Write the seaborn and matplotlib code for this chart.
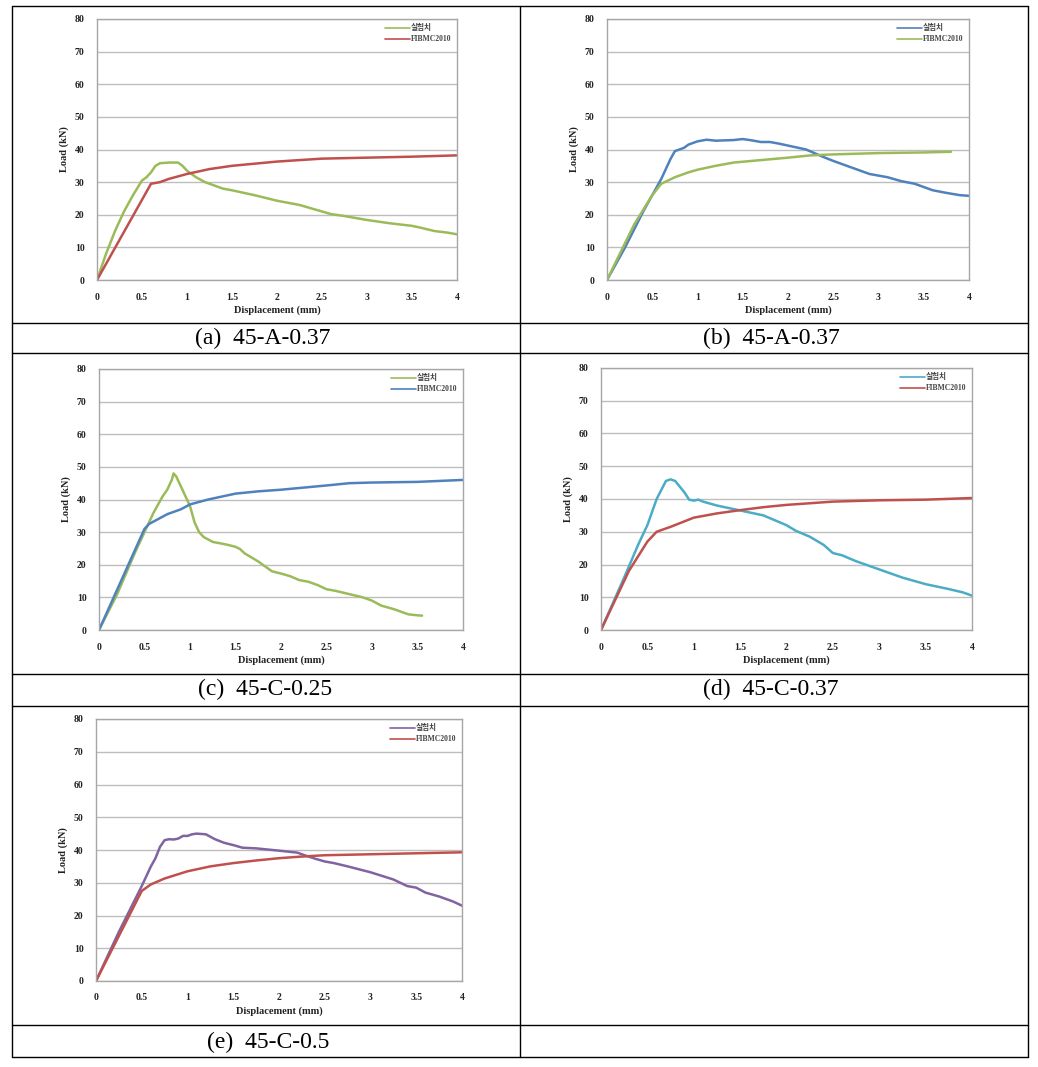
import matplotlib
matplotlib.use("Agg")
import matplotlib.pyplot as plt
from matplotlib.lines import Line2D
import seaborn as sns
import pandas as pd

sns.set_style("white")
plt.rcParams['font.family'] = ['Liberation Serif', 'Noto Sans CJK KR', 'DejaVu Sans']

GREEN = "#9BBB59"
RED = "#C0504D"
BLUE = "#4F81BD"
TEAL = "#4BACC6"
PURPLE = "#8064A2"

EXP_LABEL = "실험치"
FIB_LABEL = "FIBMC2010"

# (a) 45-A-0.37
a_exp_x = [0, 0.1, 0.2, 0.3, 0.4, 0.5, 0.55, 0.6, 0.65, 0.7, 0.8, 0.9, 0.95, 1.0, 1.1, 1.2, 1.3, 1.4, 1.5, 1.75, 2.0, 2.25, 2.4, 2.5, 2.6, 2.75, 3.0, 3.25, 3.5, 3.6, 3.75, 3.9, 4.0]
a_exp_y = [0, 8, 15, 21, 26, 30.5, 31.5, 33, 35, 35.8, 36, 36, 35, 33.5, 31.5, 30, 29, 28, 27.5, 26, 24.3, 23, 21.8, 21, 20.2, 19.6, 18.4, 17.4, 16.6, 16, 15, 14.5, 14]
a_fib_x = [0, 0.6, 0.7, 0.8, 1.0, 1.25, 1.5, 2.0, 2.5, 3.0, 3.5, 4.0]
a_fib_y = [0, 29.5, 30, 31, 32.5, 34, 35, 36.3, 37.2, 37.5, 37.8, 38.2]

# (b) 45-A-0.37
b_exp_x = [0, 0.2, 0.4, 0.5, 0.6, 0.7, 0.75, 0.8, 0.85, 0.9, 1.0, 1.1, 1.2, 1.3, 1.4, 1.5, 1.6, 1.7, 1.8, 1.9, 2.0, 2.1, 2.2, 2.3, 2.4, 2.5, 2.6, 2.75, 2.9, 3.0, 3.1, 3.25, 3.4, 3.5, 3.6, 3.75, 3.9, 4.0]
b_exp_y = [0, 10, 21, 26, 31, 37, 39.5, 40, 40.5, 41.5, 42.5, 43, 42.7, 42.8, 42.9, 43.2, 42.8, 42.3, 42.3, 41.8, 41.2, 40.6, 40, 38.8, 37.6, 36.5, 35.5, 34, 32.5, 32, 31.5, 30.3, 29.5, 28.5, 27.5, 26.7, 26, 25.8]
b_fib_x = [0, 0.3, 0.5, 0.6, 0.75, 0.9, 1.0, 1.2, 1.4, 1.6, 1.8, 2.0, 2.25, 2.5, 3.0, 3.5, 3.8]
b_fib_y = [0, 17, 26, 29.5, 31.5, 33, 33.8, 35, 36, 36.5, 37, 37.5, 38.2, 38.5, 38.9, 39.1, 39.3]

# (c) 45-C-0.25
c_exp_x = [0, 0.2, 0.4, 0.5, 0.55, 0.6, 0.7, 0.75, 0.8, 0.82, 0.85, 0.9, 1.0, 1.05, 1.1, 1.15, 1.25, 1.4, 1.5, 1.55, 1.6, 1.75, 1.9, 2.0, 2.1, 2.2, 2.3, 2.4, 2.5, 2.6, 2.75, 2.9, 3.0, 3.1, 3.25, 3.4, 3.5, 3.55]
c_exp_y = [0, 11, 24, 30, 33, 36, 41, 43, 46, 48, 47, 44, 38, 33, 30, 28.5, 27, 26.2, 25.5, 24.8, 23.5, 21, 18, 17.3, 16.5, 15.3, 14.8, 13.8, 12.5, 12, 11, 10, 9, 7.5, 6.3, 4.8, 4.5, 4.4]
c_fib_x = [0, 0.5, 0.55, 0.65, 0.75, 0.9, 1.0, 1.2, 1.5, 1.75, 2.0, 2.5, 2.75, 3.0, 3.5, 4.0]
c_fib_y = [0, 31, 32.5, 34, 35.5, 37, 38.5, 40, 41.8, 42.5, 43, 44.3, 45, 45.2, 45.4, 46]

# (d) 45-C-0.37
d_exp_x = [0, 0.25, 0.4, 0.5, 0.6, 0.7, 0.75, 0.8, 0.9, 0.95, 1.0, 1.05, 1.1, 1.25, 1.5, 1.75, 2.0, 2.1, 2.25, 2.4, 2.5, 2.6, 2.75, 3.0, 3.25, 3.5, 3.75, 3.9, 4.0]
d_exp_y = [0, 16, 26, 32, 40, 45.5, 46, 45.5, 42, 39.8, 39.5, 39.8, 39.2, 38, 36.5, 35, 32, 30.3, 28.5, 26, 23.5, 22.8, 21, 18.5, 16, 14, 12.5, 11.5, 10.5]
d_fib_x = [0, 0.3, 0.5, 0.6, 0.75, 1.0, 1.25, 1.5, 1.75, 2.0, 2.5, 3.0, 3.5, 4.0]
d_fib_y = [0, 18, 27, 30, 31.5, 34.3, 35.6, 36.6, 37.5, 38.2, 39.2, 39.6, 39.8, 40.3]

# (e) 45-C-0.5
e_exp_x = [0, 0.25, 0.5, 0.6, 0.65, 0.7, 0.75, 0.8, 0.85, 0.9, 0.95, 1.0, 1.05, 1.1, 1.2, 1.3, 1.4, 1.5, 1.6, 1.75, 2.0, 2.2, 2.3, 2.4, 2.5, 2.6, 2.75, 3.0, 3.25, 3.4, 3.5, 3.6, 3.75, 3.9, 4.0]
e_exp_y = [0, 15, 29, 35, 37.5, 41, 43, 43.3, 43.2, 43.5, 44.3, 44.3, 44.8, 45, 44.8, 43.3, 42.2, 41.5, 40.7, 40.5, 39.8, 39.2, 38.2, 37.3, 36.5, 36, 35, 33.2, 31, 29, 28.5, 27, 25.8, 24.3, 23]
e_fib_x = [0, 0.5, 0.6, 0.75, 1.0, 1.25, 1.5, 1.75, 2.0, 2.25, 2.5, 3.0, 3.5, 4.0]
e_fib_y = [0, 27.5, 29.5, 31.3, 33.5, 35, 36, 36.8, 37.5, 38, 38.4, 38.7, 39, 39.3]

captions = ["(a)  45-A-0.37", "(b)  45-A-0.37", "(c)  45-C-0.25", "(d)  45-C-0.37", "(e)  45-C-0.5"]
x_ticks = [0, 0.5, 1, 1.5, 2, 2.5, 3, 3.5, 4]
x_ticklabels = ["0", "0.5", "1", "1.5", "2", "2.5", "3", "3.5", "4"]
y_ticks = [0, 10, 20, 30, 40, 50, 60, 70, 80]

W, H = 1038, 1067
fig = plt.figure(figsize=(W / 100, H / 100), dpi=100)
fig.patch.set_facecolor("white")

def px_rect(x0, x4, y80, y0):
    return [x0 / W, 1 - y0 / H, (x4 - x0) / W, (y0 - y80) / H]

panels = [
    (px_rect(97, 457, 19, 280), a_exp_x, a_exp_y, GREEN, a_fib_x, a_fib_y, RED),
    (px_rect(607, 969, 19, 280), b_exp_x, b_exp_y, BLUE, b_fib_x, b_fib_y, GREEN),
    (px_rect(99, 463, 369, 630), c_exp_x, c_exp_y, GREEN, c_fib_x, c_fib_y, BLUE),
    (px_rect(601, 972, 368, 630), d_exp_x, d_exp_y, TEAL, d_fib_x, d_fib_y, RED),
    (px_rect(96, 462, 719, 981), e_exp_x, e_exp_y, PURPLE, e_fib_x, e_fib_y, RED),
]

for rect, ex, ey, ec, fx, fy, fc in panels:
    ax = fig.add_axes(rect)
    df = pd.concat([
        pd.DataFrame({"x": ex, "y": ey, "s": EXP_LABEL}),
        pd.DataFrame({"x": fx, "y": fy, "s": FIB_LABEL}),
    ])
    sns.lineplot(data=df, x="x", y="y", hue="s", palette={EXP_LABEL: ec, FIB_LABEL: fc},
                 ax=ax, linewidth=1.8, sort=False, estimator=None)
    ax.set_xlim(0, 4)
    ax.set_ylim(0, 80)
    ax.set_xticks(x_ticks)
    ax.set_xticklabels(x_ticklabels)
    ax.set_yticks(y_ticks)
    ax.yaxis.grid(True, color="#BDBDBD", linewidth=1.0)
    ax.xaxis.grid(False)
    ax.set_axisbelow(True)
    for sp in ax.spines.values():
        sp.set_visible(True)
        sp.set_color("#A6A6A6")
        sp.set_linewidth(1.0)
    ax.tick_params(axis="both", length=0, labelsize=7, pad=9, labelcolor="#222222")
    for lab in ax.get_xticklabels() + ax.get_yticklabels():
        lab.set_fontweight("bold")
    ax.set_xlabel("Displacement (mm)", fontsize=7.5, fontweight="bold", labelpad=3, color="#222222")
    ax.set_ylabel("Load (kN)", fontsize=7.5, fontweight="bold", labelpad=4, color="#222222")
    leg = ax.legend(loc="upper right", frameon=False, fontsize=5.5, handlelength=3.2,
                    borderaxespad=0.3, labelspacing=0.4, handletextpad=0.2)
    for h in leg.get_lines():
        h.set_linewidth(1.2)
    for t in leg.get_texts():
        t.set_fontweight("bold")
        t.set_color("#444444")

# captions
cap_pos = [(263, 338), (771, 338), (265, 689), (771, 689), (268, 1042)]
for (cx, cy), txt in zip(cap_pos, captions):
    fig.text(cx / W, 1 - cy / H, txt, ha="center", va="center", fontsize=17, color="black")

# table borders
def hline(y, x0=12, x1=1028):
    fig.add_artist(Line2D([x0 / W, x1 / W], [1 - y / H, 1 - y / H], color="black", linewidth=1.0))

def vline(x, y0=6, y1=1057):
    fig.add_artist(Line2D([x / W, x / W], [1 - y0 / H, 1 - y1 / H], color="black", linewidth=1.0))

for y in [6, 323, 353, 674, 706, 1025, 1057]:
    hline(y)
vline(12)
vline(1028)
vline(520)

fig.savefig("out.png", dpi=100, facecolor="white")
